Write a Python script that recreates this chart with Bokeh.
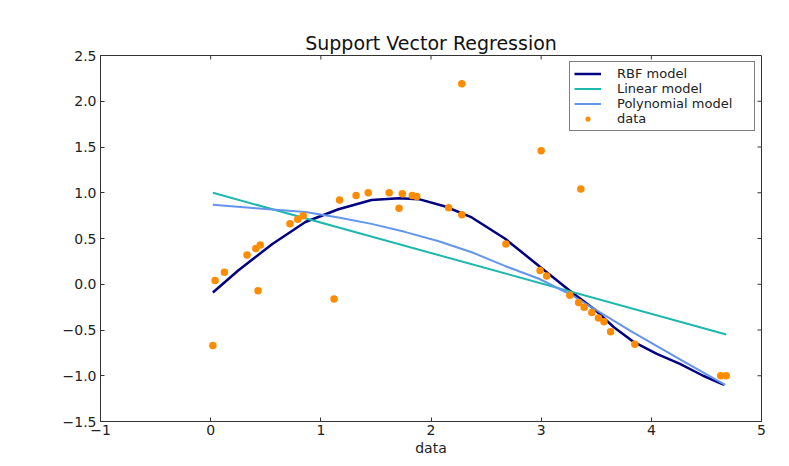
from bokeh.plotting import figure
from bokeh.models import FixedTicker, Range1d, Legend, LegendItem
from bokeh.embed import file_html
from bokeh.resources import INLINE

# ---- data ----
data_x = [0.02, 0.04, 0.125, 0.33, 0.41, 0.43, 0.45, 0.72, 0.79, 0.84, 1.12, 1.17, 1.32,
          1.43, 1.62, 1.71, 1.74, 1.83, 1.87, 2.16, 2.28, 2.28, 2.68, 2.99, 3.00, 3.05,
          3.26, 3.34, 3.36, 3.39, 3.46, 3.52, 3.57, 3.63, 3.85, 4.63, 4.68]
data_y = [-0.67, 0.04, 0.13, 0.32, 0.39, -0.07, 0.43, 0.66, 0.71, 0.75, -0.16, 0.92, 0.97,
          1.00, 1.00, 0.83, 0.99, 0.97, 0.96, 0.835, 0.76, 2.19, 0.44, 0.15, 1.46, 0.09,
          -0.12, -0.20, 1.04, -0.25, -0.31, -0.37, -0.41, -0.52, -0.655, -1.00, -1.00]

rbf_x = [0.02, 0.25, 0.56, 0.86, 1.16, 1.46, 1.71, 1.89, 2.13, 2.37, 2.67, 2.98, 3.28,
         3.48, 3.66, 3.84, 4.05, 4.26, 4.47, 4.66]
rbf_y = [-0.09, 0.15, 0.44, 0.68, 0.82, 0.92, 0.94, 0.93, 0.85, 0.73, 0.50, 0.20, -0.09,
         -0.27, -0.47, -0.63, -0.76, -0.87, -1.00, -1.10]

lin_x = [0.02, 4.68]
lin_y = [1.00, -0.55]

poly_x = [0.02, 0.41, 0.86, 1.16, 1.46, 1.77, 2.07, 2.37, 2.67, 2.98, 3.28, 3.81, 4.26, 4.67]
poly_y = [0.87, 0.83, 0.79, 0.73, 0.66, 0.57, 0.47, 0.35, 0.20, 0.06, -0.12, -0.51, -0.82, -1.10]

x_ticks = [-1, 0, 1, 2, 3, 4, 5]
x_tick_labels = ["\u22121", "0", "1", "2", "3", "4", "5"]
y_ticks = [-1.5, -1.0, -0.5, 0.0, 0.5, 1.0, 1.5, 2.0, 2.5]
y_tick_labels = ["\u22121.5", "\u22121.0", "\u22120.5", "0.0", "0.5", "1.0", "1.5", "2.0", "2.5"]

X_MIN, X_MAX = -1, 5
Y_MIN, Y_MAX = -1.5, 2.5

FONT = "DejaVu Sans"
AX_COLOR = "#333333"

p = figure(width=781, height=458, output_backend="svg", toolbar_location=None,
           x_range=Range1d(X_MIN, X_MAX), y_range=Range1d(Y_MIN, Y_MAX),
           title="Support Vector Regression",
           min_border_left=100, min_border_right=20, min_border_top=55, min_border_bottom=37)

p.title.align = "center"
p.title.text_font = FONT
p.title.text_font_size = "19px"
p.title.text_font_style = "normal"
p.title.text_color = "#111111"
p.title.standoff = 4

p.xgrid.visible = False
p.ygrid.visible = False
p.outline_line_color = AX_COLOR
p.outline_line_width = 1
p.background_fill_color = "white"
p.border_fill_color = "white"

def style_axis(ax, ticks, labels):
    ax.ticker = FixedTicker(ticks=ticks)
    ax.major_label_overrides = {t: l for t, l in zip(ticks, labels)}
    ax.minor_tick_line_color = None
    ax.major_tick_in = 4
    ax.major_tick_out = 0
    ax.axis_line_color = AX_COLOR
    ax.major_tick_line_color = AX_COLOR
    ax.major_label_text_font = FONT
    ax.major_label_text_font_size = "14px"
    ax.major_label_text_color = "#222222"
    ax.major_label_standoff = 4

style_axis(p.xaxis[0], x_ticks, x_tick_labels)
style_axis(p.yaxis[0], y_ticks, y_tick_labels)
p.xaxis[0].major_label_standoff = 3
p.xaxis[0].axis_label = "data"
p.xaxis[0].axis_label_text_font = FONT
p.xaxis[0].axis_label_text_font_size = "14px"
p.xaxis[0].axis_label_text_font_style = "normal"
p.xaxis[0].axis_label_text_color = "#222222"
p.xaxis[0].axis_label_standoff = 2

# inward ticks on the top and right spines (matplotlib style box)
tick_dx = (X_MAX - X_MIN) * 4 / 661.0
tick_dy = (Y_MAX - Y_MIN) * 4 / 366.0
inner_x = [t for t in x_ticks if X_MIN < t < X_MAX]
inner_y = [t for t in y_ticks if Y_MIN < t < Y_MAX]
p.segment(x0=inner_x, y0=[Y_MAX] * len(inner_x), x1=inner_x, y1=[Y_MAX - tick_dy] * len(inner_x),
          line_color=AX_COLOR, line_width=1)
p.segment(x0=[X_MAX] * len(inner_y), y0=inner_y, x1=[X_MAX - tick_dx] * len(inner_y), y1=inner_y,
          line_color=AX_COLOR, line_width=1)

r_rbf = p.line(rbf_x, rbf_y, line_color="navy", line_width=2.5, line_join="round")
r_lin = p.line(lin_x, lin_y, line_color="#1cb8ad", line_width=2)
r_poly = p.line(poly_x, poly_y, line_color="cornflowerblue", line_width=2, line_join="round")
r_data = p.scatter(data_x, data_y, size=7.5, fill_color="darkorange", line_color=None)

legend = Legend(items=[
    LegendItem(label="RBF model", renderers=[r_rbf]),
    LegendItem(label="Linear model", renderers=[r_lin]),
    LegendItem(label="Polynomial model", renderers=[r_poly]),
    LegendItem(label="data", renderers=[r_data]),
], location="top_right")
legend.margin = 6
legend.padding = 4
legend.spacing = 0
legend.label_height = 13
legend.glyph_height = 13
legend.glyph_width = 27
legend.label_standoff = 16
legend.label_width = 133
legend.label_text_font = FONT
legend.label_text_font_size = "13px"
legend.label_text_color = "#222222"
legend.border_line_color = "black"
legend.border_line_width = 1
legend.background_fill_alpha = 1.0
p.add_layout(legend, "center")

open("out.html", "w").write(file_html(p, INLINE))
